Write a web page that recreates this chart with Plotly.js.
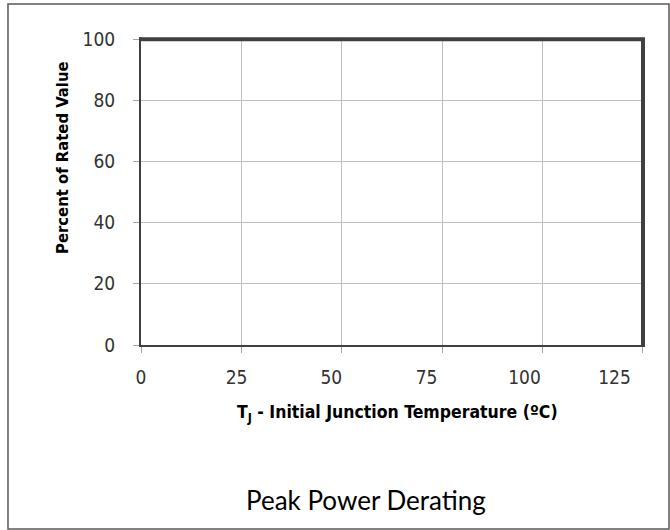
<!DOCTYPE html>
<html>
<head>
<meta charset="utf-8">
<script src="https://cdn.plot.ly/plotly-3.0.1.min.js"></script>
<style>
  html, body { margin: 0; padding: 0; background: #ffffff; }
  #chart { width: 670px; height: 530px; }
</style>
</head>
<body>
<div id="chart"></div>
<script>
// Derating curve (percent of rated peak power vs. initial junction temperature)
var junctionTempC = [0, 125, 125];
var percentRated = [100, 100, 0];

// Axis ticks
var xTickValues = [0, 25, 50, 75, 100, 125];
var xTickText = ['0', '25', '50', '75', '100', '125'];
// where the reference prints the x labels (they drift left of their ticks)
var xLabelPositions = [0, 23.8, 47.4, 71.1, 95.5, 117.9];
var yTickValues = [0, 20, 40, 60, 80, 100];
var yTickText = ['0', '20', '40', '60', '80', '100'];

var narrow = '"DejaVu Sans Condensed", "DejaVu Sans", sans-serif';

var traces = [{
  x: junctionTempC,
  y: percentRated,
  type: 'scatter',
  mode: 'lines',
  line: { color: '#404040', width: 4 },
  hoverinfo: 'skip',
  showlegend: false
}, {
  // invisible copy that carries the label axis
  x: junctionTempC,
  y: percentRated,
  xaxis: 'x2',
  type: 'scatter',
  mode: 'lines',
  opacity: 0,
  line: { width: 0 },
  hoverinfo: 'skip',
  showlegend: false
}];

var layout = {
  width: 670,
  height: 530,
  margin: { l: 141, r: 25, t: 37, b: 185, pad: 0 },
  paper_bgcolor: '#ffffff',
  plot_bgcolor: '#ffffff',
  showlegend: false,
  xaxis: {
    range: [0, 125.5],
    tickmode: 'array',
    tickvals: xTickValues,
    ticktext: xTickText,
    showticklabels: false,
    ticks: 'outside',
    ticklen: 6,
    tickwidth: 1,
    tickcolor: '#a6a6a6',
    showgrid: true,
    gridcolor: '#bfbfbf',
    gridwidth: 1,
    showline: true,
    linecolor: '#404040',
    linewidth: 2,
    zeroline: false,
    fixedrange: true
  },
  xaxis2: {
    overlaying: 'x',
    anchor: 'y',
    side: 'bottom',
    range: [0, 125.5],
    tickmode: 'array',
    tickvals: xLabelPositions,
    ticktext: xTickText,
    ticks: '',
    showgrid: false,
    showline: false,
    zeroline: false,
    ticklabelstandoff: 19,
    tickfont: { family: narrow, size: 19, color: '#333333' },
    fixedrange: true
  },
  yaxis: {
    range: [0, 100.7],
    tickmode: 'array',
    tickvals: yTickValues,
    ticktext: yTickText,
    ticks: 'outside',
    ticklen: 6,
    tickwidth: 1,
    tickcolor: '#a6a6a6',
    ticklabelstandoff: 14,
    tickfont: { family: narrow, size: 19, color: '#333333' },
    showgrid: true,
    gridcolor: '#bfbfbf',
    gridwidth: 1,
    showline: true,
    linecolor: '#404040',
    linewidth: 2,
    zeroline: false,
    fixedrange: true
  },
  annotations: [
    {
      text: '<b>Percent of Rated Value</b>',
      xref: 'paper', yref: 'paper',
      x: -0.157, y: 0.61,
      xanchor: 'center', yanchor: 'middle',
      textangle: -90,
      showarrow: false,
      font: { family: narrow, size: 16.5, color: '#000000' }
    },
    {
      text: '<b>T<sub>J</sub> - Initial Junction Temperature (ºC)</b>',
      xref: 'paper', yref: 'paper',
      x: 0.508, y: -0.222,
      xanchor: 'center', yanchor: 'middle',
      showarrow: false,
      font: { family: narrow, size: 17.5, color: '#000000' }
    },
    {
      text: 'Peak Power Derating',
      xref: 'paper', yref: 'paper',
      x: 0.4464, y: -0.503,
      xanchor: 'center', yanchor: 'middle',
      showarrow: false,
      font: { family: 'Lato, "Open Sans", sans-serif', size: 26, color: '#000000' }
    }
  ],
  shapes: [{
    type: 'rect',
    xref: 'paper', yref: 'paper',
    x0: -0.2639, x1: 1.0476,
    y0: -0.5974, y1: 1.1071,
    line: { color: '#595959', width: 1.5 },
    fillcolor: 'rgba(0,0,0,0)',
    layer: 'below'
  }]
};

Plotly.newPlot('chart', traces, layout, { staticPlot: true, displayModeBar: false });
</script>
</body>
</html>
